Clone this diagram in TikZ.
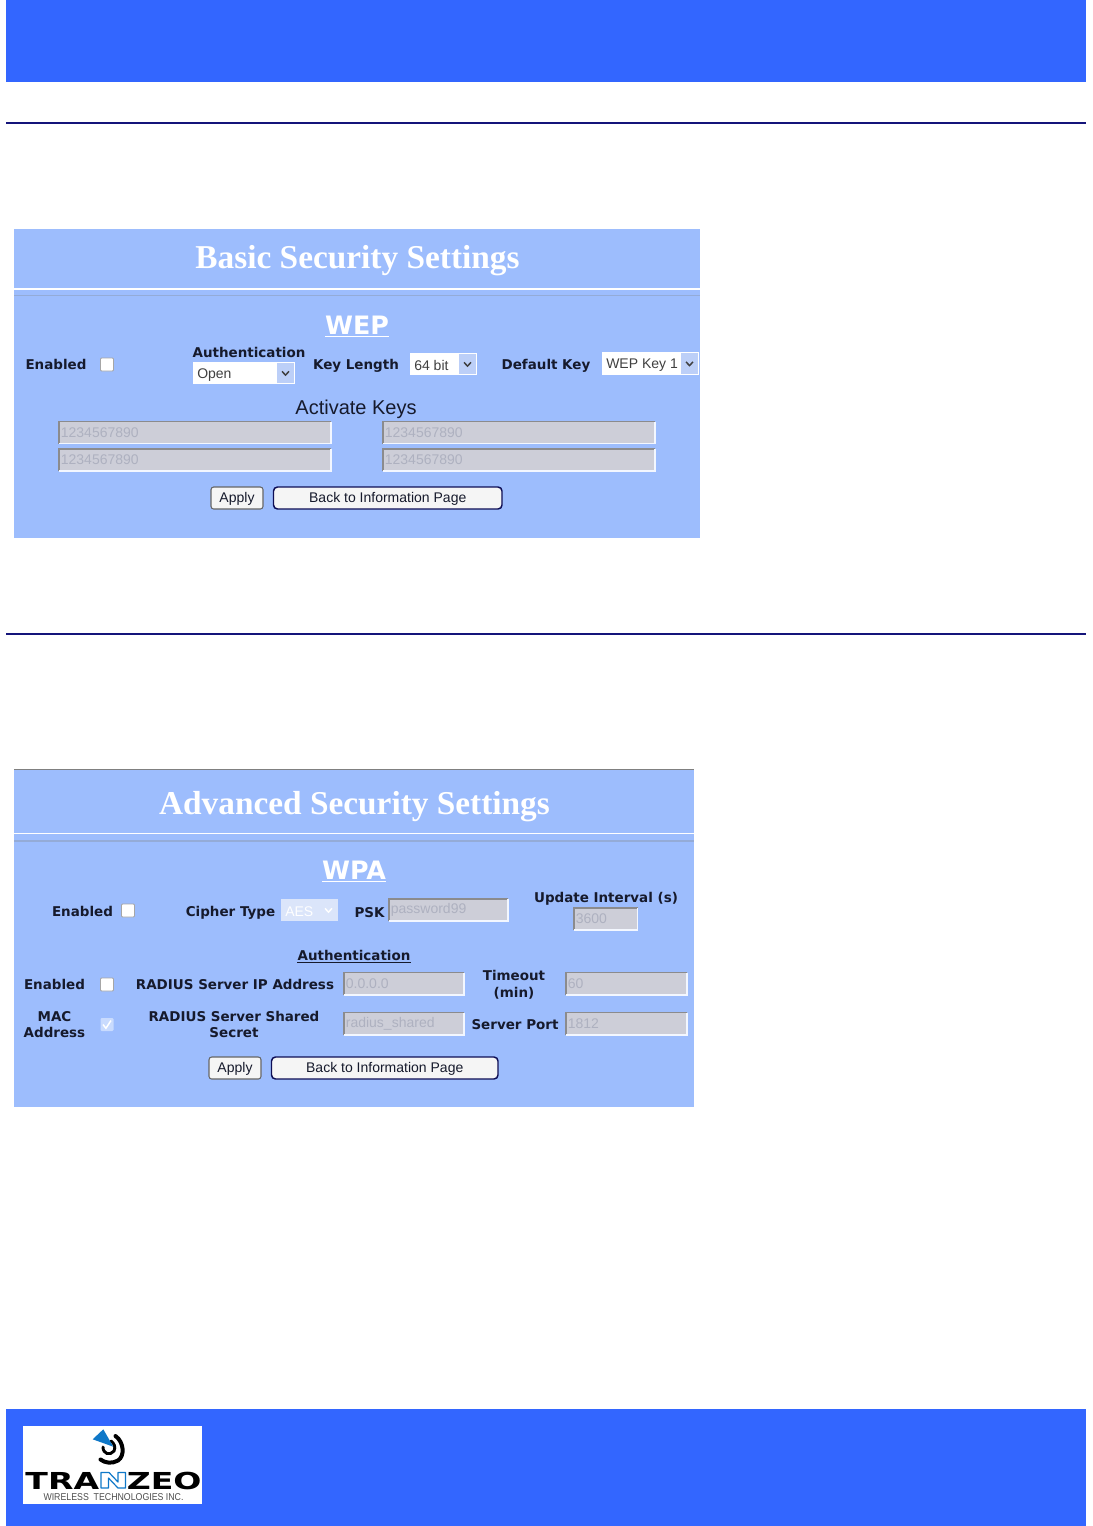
\documentclass[tikz,border=0pt]{standalone}
\usepackage{fontspec}
\newfontfamily\titlefont{Liberation Serif}[BoldFont={Liberation Serif Bold}]
\newfontfamily\labelfont{DejaVu Sans}
\newfontfamily\formfont{Liberation Sans}
\usetikzlibrary{positioning}
\definecolor{barblue}{HTML}{3366FF}
\definecolor{panelblue}{HTML}{9DBDFD}
\definecolor{rulenavy}{HTML}{14147A}
\definecolor{fieldgrey}{HTML}{CDCED8}
\definecolor{hintgrey}{HTML}{AEB1C0}
\definecolor{labelink}{HTML}{161A2C}
\definecolor{logoblue}{HTML}{0F78C8}
\definecolor{listblue}{HTML}{BCCFF8}
\definecolor{palelist}{HTML}{DBE5FA}
\tikzset{
    pagetitle/.style = {font = \titlefont\bfseries\fontsize{25}{27}\selectfont, text = white, inner sep = 0pt},
    tabtitle/.style = {font = \labelfont\bfseries\fontsize{19}{21}\selectfont, text = white, inner sep = 0pt},
    formlabel/.style = {font = \labelfont\bfseries\fontsize{10.1}{12.5}\selectfont, text = labelink, inner sep = 0pt, align = center},
    forminput/.style = {font = \formfont\fontsize{10.5}{12}\selectfont, inner sep = 0pt},
    btntext/.style = {forminput, text = labelink, yshift = -0.7pt},
    widget/.style = {inner sep = 0pt, outer sep = 0pt},
    fieldbody/.style = {widget, fill = fieldgrey},
    tickbox/.style = {widget, fill = white, draw = gray!70, line width = 0.7pt, rounded corners = 0.8pt},
    pushbtn/.style = {widget, fill = white!92!gray, draw = black!60, line width = 0.8pt, rounded corners = 2pt},
    widebtn/.style = {widget, fill = white!92!gray, draw = rulenavy!70!black, line width = 1.1pt, rounded corners = 3pt},
    fieldedgeA/.style = {draw = gray!85!fieldgrey, line width = 0.9pt},
    fieldedgeB/.style = {draw = white!88!panelblue, line width = 0.9pt},
}
% Un widget dai due angoli: stile, nome, x0, y0, x1, y1
\newcommand{\widgetbox}[6]{%
    \node[#1, minimum width = {((#5)-(#3))*0.75pt}, minimum height = {((#6)-(#4))*0.75pt}] (#2) at ({((#3)+(#5))/2},{((#4)+(#6))/2}) {};
}
% Campo di testo disabilitato
\newcommand{\keyfield}[6]{%
    \widgetbox{fieldbody}{#1}{#2}{#3}{#4}{#5}
    \draw[fieldedgeA] (#1.south west) -- (#1.north west) -- (#1.north east);
    \draw[fieldedgeB] (#1.south west) -- (#1.south east) -- (#1.north east);
    \node[forminput, text = hintgrey, anchor = west, xshift = 1.2pt] (#1text) at (#1.west) {#6};
}
% Lista a tendina: nome, angoli, testo, colore testo, fondo, bottone
\newcommand{\listbox}[9]{%
    \widgetbox{widget, fill = #8}{#1}{#2}{#3}{#4}{#5}
    \widgetbox{widget, fill = #9}{#1btn}{#4-18}{#3+1}{#4-1}{#5-1}
    \draw[line width = 1.1pt, #7] ([xshift = -2.6pt, yshift = 1.2pt]#1btn.center) -- ([yshift = -1.6pt]#1btn.center) -- ([xshift = 2.6pt, yshift = 1.2pt]#1btn.center);
    \node[forminput, text = #7, anchor = west, xshift = 3pt, yshift = -1.2pt] (#1text) at (#1.west) {#6};
}
\begin{document}
\begin{tikzpicture}[x = 0.75pt, y = -0.75pt]
    \useasboundingbox (0,0) rectangle (1092,1526);
    \fill[white] (0,0) rectangle (1092,1526);
    % Barre e righe della pagina
    \fill[barblue] (6,0) rectangle (1086,82);
    \fill[barblue] (6,1409) rectangle (1086,1526);
    \draw[rulenavy, line width = 0.8pt] (6,123) -- (1086,123);
    \draw[rulenavy, line width = 1pt] (6,634) -- (1086,634);

    % Pannello WEP
    \fill[panelblue] (14,229) rectangle (700,538);
    \draw[white, line width = 1pt] (14,289) -- (700,289);
    \draw[gray!30!panelblue, line width = 1.2pt] (14,295.5) -- (700,295.5);
    \node[pagetitle] (basictitle) at (357.5,260.5) {Basic Security Settings};
    \node[tabtitle] (weptitle) at (357,325) {WEP};
    \draw[white, line width = 1pt] ([yshift = -1.6pt]weptitle.south west) -- ([yshift = -1.6pt]weptitle.south east);
    \node[formlabel] (wepenabled) at (56,364.5) {Enabled};
    \widgetbox{tickbox}{weptick}{100.5}{358}{113.5}{371}
    \node[formlabel] (authlabel) at (249,352.5) {Authentication};
    \listbox{authlist}{193}{362}{295}{384}{Open}{black!75}{white}{listblue}
    \node[formlabel] (keylenlabel) at (356,365.5) {Key Length};
    \listbox{keylenlist}{410}{353}{477}{375}{64 bit}{black!75}{white}{listblue}
    \node[formlabel] (defkeylabel) at (546,365.5) {Default Key};
    \listbox{defkeylist}{602}{352}{699}{375}{WEP Key 1}{black!75}{white}{listblue}
    \node[forminput, font = \formfont\fontsize{15}{17}\selectfont, text = labelink] (activatelabel) at (356,409) {Activate Keys};
    \keyfield{keyA}{59}{421.5}{331}{443.5}{1234567890}
    \keyfield{keyB}{383}{421.5}{655}{443.5}{1234567890}
    \keyfield{keyC}{59}{449}{331}{471}{1234567890}
    \keyfield{keyD}{383}{449}{655}{471}{1234567890}
    \widgetbox{pushbtn}{wepapply}{211}{487}{263}{509}
    \node[btntext] (wepapplytext) at (wepapply) {Apply};
    \widgetbox{widebtn}{wepback}{273.5}{487}{502}{509}
    \node[btntext] (wepbacktext) at (wepback) {Back to Information Page};

    % Pannello WPA
    \fill[panelblue] (14,769) rectangle (694,1107);
    \draw[gray, line width = 0.8pt] (14,769.5) -- (694,769.5);
    \draw[white, line width = 1pt] (14,833.5) -- (694,833.5);
    \draw[gray!30!panelblue, line width = 1.2pt] (14,841) -- (694,841);
    \node[pagetitle] (advtitle) at (354.5,806.5) {Advanced Security Settings};
    \node[tabtitle] (wpatitle) at (354,870) {WPA};
    \draw[white, line width = 1pt] ([yshift = -1.6pt]wpatitle.south west) -- ([yshift = -1.6pt]wpatitle.south east);
    \node[formlabel] (wpaenabled) at (82.5,911.5) {Enabled};
    \widgetbox{tickbox}{wpatick}{121.5}{904}{134.5}{917}
    \node[formlabel] (cipherlabel) at (230.5,912.5) {Cipher Type};
    \listbox{cipherlist}{281}{899}{338}{921}{AES}{white}{palelist}{palelist}
    \node[formlabel] (psklabel) at (369.5,912.5) {PSK};
    \keyfield{pskfield}{389}{899}{508}{921}{password99}
    \node[formlabel] (updatelabel) at (606,898.5) {Update Interval (s)};
    \keyfield{updatefield}{574}{908}{637.5}{930}{3600}
    \node[formlabel] (authhead) at (354,955) {Authentication};
    \draw[labelink, line width = 0.8pt] ([yshift = -1.2pt]authhead.south west) -- ([yshift = -1.2pt]authhead.south east);
    \node[formlabel] (radenabled) at (54.5,984.5) {Enabled};
    \widgetbox{tickbox}{radtick}{100.5}{978}{113.5}{991}
    \node[formlabel] (radiplabel) at (235,984.5) {RADIUS Server IP Address};
    \keyfield{radipfield}{344}{972.5}{464}{995}{0.0.0.0}
    \node[formlabel] (timeoutlabel) at (514,985) {Timeout\\(min)};
    \keyfield{timeoutfield}{566}{972.5}{687}{995}{60}
    \node[formlabel] (maclabel) at (54.5,1024.5) {MAC\\Address};
    \widgetbox{tickbox, draw = none, fill = white!45!panelblue}{mactick}{100.5}{1018}{113.5}{1031}
    \draw[white, line width = 1.1pt] ([xshift = -3pt]mactick.center) -- ([xshift = -0.8pt, yshift = -2.8pt]mactick.center) -- ([xshift = 3pt, yshift = 3pt]mactick.center);
    \node[formlabel] (secretlabel) at (234,1024.5) {RADIUS Server Shared\\Secret};
    \keyfield{secretfield}{344}{1012.5}{464}{1035}{radius\_shared}
    \node[formlabel] (portlabel) at (515,1024.5) {Server Port};
    \keyfield{portfield}{566}{1012.5}{687}{1035}{1812}
    \widgetbox{pushbtn}{wpaapply}{209}{1057}{261}{1079}
    \node[btntext] (wpaapplytext) at (wpaapply) {Apply};
    \widgetbox{widebtn}{wpaback}{271.5}{1057}{498}{1079}
    \node[btntext] (wpabacktext) at (wpaback) {Back to Information Page};

    % Logo
    \fill[white] (23,1426) rectangle (202,1504);
    \draw[black, line width = 3pt, line cap = round] (115.5,1436) .. controls (124,1442) and (125,1456) .. (118,1460.5) .. controls (112,1464) and (105,1463) .. (100.5,1459.5);
    \draw[black, line width = 2.2pt, line cap = round] (103,1447) .. controls (103,1454) and (110,1456) .. (114,1451) .. controls (116,1447) and (114,1443) .. (111,1441);
    \fill[logoblue] (92.7,1439.3) -- (103.3,1429.3) -- (113.3,1446.7) -- cycle;
    \node[inner sep = 0pt] (logoname) at (113.5,1480.5) {\resizebox{132pt}{13pt}{\labelfont\bfseries TRA\phantom{N}ZEO}};
    \draw[logoblue, fill = white, line width = 0.9pt, line join = round] (101,1488) -- (101,1472.5) -- (109,1472.5) -- (118,1482) -- (118,1472.5) -- (125.5,1472.5) -- (125.5,1488) -- (118,1488) -- (108.5,1478) -- (108.5,1488) -- cycle;
    \node[inner sep = 0pt, text = black!70] (logosub) at (113.5,1497.5) {\resizebox{105pt}{5.2pt}{\formfont WIRELESS\ \ TECHNOLOGIES INC.}};
\end{tikzpicture}
\end{document}
